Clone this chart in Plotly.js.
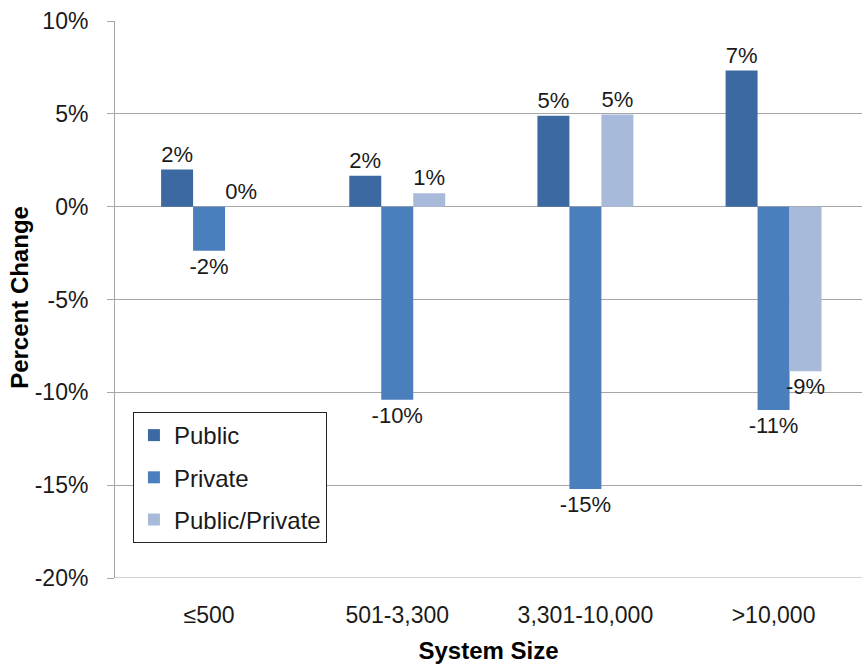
<!DOCTYPE html>
<html>
<head>
<meta charset="utf-8">
<script src="https://cdn.plot.ly/plotly-3.0.1.min.js"></script>
<style>html,body{margin:0;padding:0;background:#fff;}#chart{width:862px;height:664px;}</style>
</head>
<body>
<div id="chart"></div>
<script>
const categories = ['≤500', '501-3,300', '3,301-10,000', '>10,000'];
const publicVals = [2.0, 1.67, 4.9, 7.33];
const privateVals = [-2.37, -10.4, -15.2, -10.95];
const publicPrivateVals = [0, 0.72, 4.96, -8.86];
const seriesNames = ['Public', 'Private', 'Public/Private'];
const seriesColors = ['#3D69A2', '#4A7EBD', '#A8BADA'];
const yTickVals = [-20, -15, -10, -5, 0, 5, 10];
const yTitle = 'Percent Change';
const xTitle = 'System Size';

const xIdx = categories.map((c, i) => i);
const fmt = v => Math.round(v) + '%';
const allVals = [publicVals, privateVals, publicPrivateVals];
const FONT = 'Liberation Sans, Arial, sans-serif';

const traces = allVals.map((vals, k) => ({
  type: 'bar',
  name: seriesNames[k],
  x: xIdx,
  y: vals,
  marker: {color: seriesColors[k], line: {width: 0}},
  text: vals.map(fmt),
  textposition: 'outside',
  constraintext: 'none',
  textfont: {family: FONT, size: 22, color: '#1a1a1a'},
  cliponaxis: false,
  legendgroup: 'g' + k,
  hoverinfo: 'skip'
}));

const layout = {
  width: 862,
  height: 664,
  margin: {l: 115, r: 0, t: 21, b: 86},
  paper_bgcolor: '#fff',
  plot_bgcolor: '#fff',
  font: {family: FONT, size: 23, color: '#1a1a1a'},
  barmode: 'group',
  bargap: 0.49,
  bargroupgap: 0,
  showlegend: true,
  legend: {
    x: 0.024, y: 0.298, xanchor: 'left', yanchor: 'top',
    bgcolor: '#fff', bordercolor: '#222', borderwidth: 1,
    font: {family: FONT, size: 24, color: '#1a1a1a'},
    tracegroupgap: 8,
    traceorder: 'grouped',
    itemwidth: 30
  },
  xaxis: {
    range: [-0.5, 3.47],
    tickvals: xIdx,
    ticktext: categories,
    showgrid: false,
    showline: false,
    zeroline: false,
    ticks: '',
    ticklabelstandoff: 21,
    tickfont: {family: FONT, size: 23, color: '#1a1a1a'},
    title: {text: '<b>' + xTitle + '</b>', font: {family: FONT, size: 24, color: '#000'}},
    fixedrange: true
  },
  yaxis: {
    range: [-20, 10],
    tickvals: yTickVals,
    ticktext: yTickVals.map(v => v + '%'),
    showgrid: true,
    gridcolor: '#a6a6a6',
    gridwidth: 1,
    zeroline: true,
    zerolinecolor: '#a6a6a6',
    zerolinewidth: 1,
    showline: true,
    linecolor: '#a6a6a6',
    linewidth: 1,
    ticks: 'outside',
    ticklen: 7,
    tickcolor: '#a6a6a6',
    ticklabelstandoff: 14,
    tickfont: {family: FONT, size: 23, color: '#1a1a1a'},
    fixedrange: true
  },
  annotations: [{
    text: '<b>' + yTitle + '</b>',
    xref: 'paper', yref: 'paper', x: 0, y: 0.503,
    xanchor: 'center', yanchor: 'middle',
    xshift: -95, textangle: -90, showarrow: false,
    font: {family: FONT, size: 24, color: '#000'}
  }],
  shapes: [{
    type: 'line', xref: 'paper', yref: 'y', x0: 0, x1: 1, y0: -20, y1: -20,
    line: {color: '#a6a6a6', width: 1}
  }]
};

Plotly.newPlot('chart', traces, layout, {displayModeBar: false, staticPlot: true});
</script>
</body>
</html>
